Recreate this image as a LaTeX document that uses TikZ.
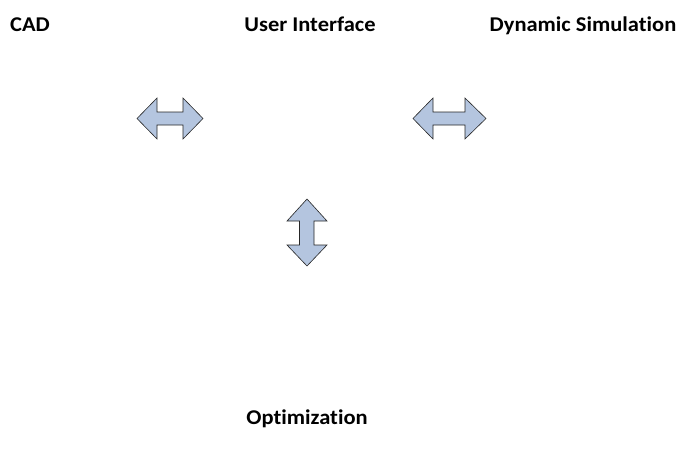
\documentclass[tikz,border=0pt]{standalone}
\usepackage{fontspec}
\setmainfont{Carlito}[Ligatures=NoCommon]
\definecolor{arrowfill}{HTML}{B4C5DF}
\newcommand{\lbltext}[1]{\scalebox{1.07}[1]{#1}}
\begin{document}
\begin{tikzpicture}[x=1pt,y=-1pt,
  lbl/.style={font=\fontsize{21}{24}\selectfont\bfseries, inner sep=0pt, anchor=base},
  blockarrow/.style={draw=black!85, line width=0.6pt, fill=arrowfill, line join=miter}]
\useasboundingbox (0,0) rectangle (689,459);
\node[lbl, anchor=base west] (cad) at (10,31) {\lbltext{CAD}};
\node[lbl] (ui) at (310,31) {\lbltext{User Interface}};
\node[lbl] (dyn) at (583,31) {\lbltext{Dynamic Simulation}};
\node[lbl] (opt) at (307,424) {\lbltext{Optimization}};
% left double arrow
\draw[blockarrow] (137,118.5) -- (157,98) -- (157,112) -- (183,112) -- (183,98) -- (203,118.5)
  -- (183,139) -- (183,125) -- (157,125) -- (157,139) -- cycle;
% right double arrow
\draw[blockarrow] (413,118.5) -- (433,98) -- (433,112) -- (465,112) -- (465,98) -- (486,118.5)
  -- (465,139) -- (465,125) -- (433,125) -- (433,139) -- cycle;
% vertical double arrow
\draw[blockarrow] (307,199) -- (327,221) -- (314,221) -- (314,245) -- (327,245) -- (307,266)
  -- (287,245) -- (299.5,245) -- (299.5,221) -- (287,221) -- cycle;
\end{tikzpicture}
\end{document}
